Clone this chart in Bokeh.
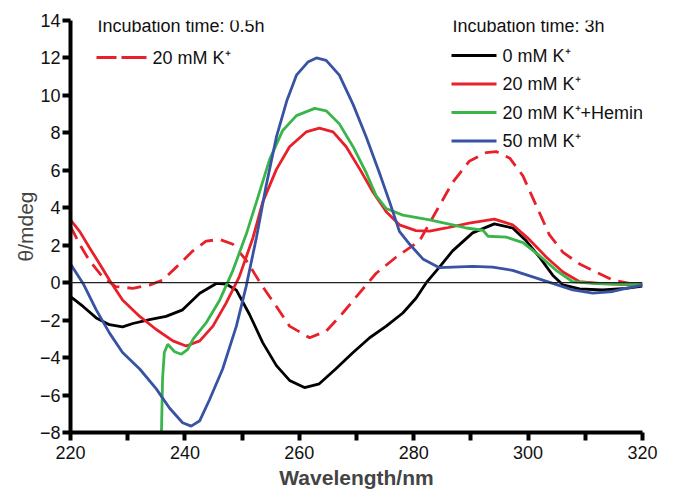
from bokeh.plotting import figure
from bokeh.models import Range1d, FixedTicker, Span, Label, BoxAnnotation
from bokeh.embed import file_html
from bokeh.resources import INLINE

# ---- data ----
x_ticks = [220, 240, 260, 280, 300, 320]
x_minor = [230, 250, 270, 290, 310]
y_ticks = [-8, -6, -4, -2, 0, 2, 4, 6, 8, 10, 12, 14]

# 0.5 h, 20 mM K+ (dashed red)
wl_dash = [220, 221.6, 223.3, 225.6, 227.9, 230.9, 233.8, 236.1, 238.5, 241.4, 243.7, 246.1,
           248.4, 250.7, 253.6, 256.0, 258.3, 261.8, 264.7, 267.6, 270.5, 273.4, 276.9,
           281.0, 283.9, 286.8, 289.7, 292.7, 294.4, 296.8, 299.1, 301.4, 303.7, 306.1,
           309.0, 311.9, 314.8, 317.7, 320]
cd_dash = [3.0, 2.05, 1.18, 0.31, -0.21, -0.3, -0.13, 0.14, 0.83, 1.7, 2.22, 2.31,
           2.05, 1.2, -0.21, -1.27, -2.32, -2.94, -2.59, -1.62, -0.56, 0.49, 1.36,
           2.22, 3.79, 5.35, 6.48, 6.95, 7.0, 6.65, 5.7, 4.13, 2.57, 1.62,
           1.0, 0.57, 0.14, -0.04, -0.1]

# 3 h, 0 mM K+ (black)
wl_k0 = [220, 222.2, 224.5, 226.8, 229.1, 230.9, 233.8, 236.7, 239.6, 242.6, 245.5, 247.2,
         249.0, 251.3, 253.6, 256.0, 258.3, 260.9, 263.5, 266.4, 269.4, 272.3, 275.2, 278.1,
         280.4, 282.2, 284.5, 286.8, 290.3, 294.1, 297.3, 299.7, 302.0, 304.3, 306.1,
         309.0, 313.0, 317.1, 320]
cd_k0 = [-0.74, -1.27, -1.88, -2.24, -2.36, -2.18, -1.97, -1.8, -1.45, -0.56, -0.04, -0.07,
         -0.4, -1.7, -3.2, -4.43, -5.22, -5.6, -5.4, -4.6, -3.73, -2.94, -2.32, -1.62,
         -0.83, 0.0, 0.83, 1.7, 2.66, 3.14, 2.92, 2.22, 1.36, 0.4, -0.12,
         -0.33, -0.39, -0.3, -0.18]

# 3 h, 20 mM K+ (red)
wl_k20 = [220, 221.6, 223.3, 225.1, 226.8, 229.1, 232.1, 235.0, 237.9, 240.2, 242.6, 244.9,
          247.2, 249.5, 251.9, 253.6, 256.0, 258.3, 261.2, 263.5, 265.9, 268.2, 270.6, 272.9,
          275.2, 277.5, 280.4, 282.8, 285.7, 289.7, 294.1, 297.3, 300.2, 303.2, 306.1,
          309.0, 313.0, 317.0, 320]
cd_k20 = [3.35, 2.74, 1.88, 1.0, 0.14, -0.92, -1.8, -2.5, -3.11, -3.38, -3.11, -2.32,
          -1.09, 0.31, 2.4, 4.3, 6.05, 7.26, 8.05, 8.25, 8.05, 7.26, 6.05, 4.83,
          3.79, 3.09, 2.78, 2.75, 2.92, 3.18, 3.39, 3.09, 2.31, 1.36, 0.57,
          0.05, -0.05, -0.1, -0.1]

# 3 h, 20 mM K+ + Hemin (green)
wl_hem = [235.9, 236.1, 236.4, 237.0, 238.2, 239.4, 240.5, 241.4, 243.7, 246.1, 248.4, 250.7,
          252.5, 254.8, 257.1, 259.5, 262.7, 264.7, 267.0, 269.4, 271.7, 273.4, 275.2, 278.1,
          282.8, 286.8, 289.2, 292.1, 293.0, 296.2, 299.1, 302.0, 304.9, 307.8, 311.9, 316.0, 320]
cd_hem = [-8.0, -5.1, -3.73, -3.29, -3.69, -3.82, -3.56, -3.03, -2.15, -0.92, 0.66, 2.57,
          4.3, 6.57, 8.13, 8.92, 9.31, 9.18, 8.48, 7.26, 5.87, 4.66, 3.96, 3.61,
          3.35, 3.09, 2.92, 2.8, 2.48, 2.43, 2.14, 1.44, 0.66, 0.05, -0.05, -0.08, -0.1]

# 3 h, 50 mM K+ (blue)
wl_k50 = [220, 222.2, 224.5, 226.8, 229.1, 232.1, 235.0, 237.3, 239.6, 241.1, 242.6, 244.3,
          246.6, 249.0, 250.7, 252.5, 254.2, 256.0, 257.8, 259.5, 261.5, 263.0, 264.7, 267.0,
          269.4, 271.7, 274.0, 275.8, 277.5, 279.3, 281.6, 284.5, 290.3, 293.8, 297.3,
          300.8, 304.3, 307.8, 311.3, 314.8, 317.1, 320]
cd_k50 = [1.0, -0.04, -1.45, -2.68, -3.73, -4.61, -5.67, -6.69, -7.48, -7.66, -7.37, -6.25,
          -4.61, -2.32, -0.21, 2.4, 5.18, 7.78, 9.7, 11.08, 11.78, 12.0, 11.87, 11.08,
          9.52, 7.78, 5.87, 4.3, 2.74, 2.05, 1.27, 0.8, 0.87, 0.83, 0.66,
          0.31, -0.04, -0.39, -0.56, -0.47, -0.3, -0.13]

legend_title_05 = "Incubation time: 0.5h"
legend_title_3 = "Incubation time: 3h"
legend_05 = ["20 mM K⁺"]
legend_3 = ["0 mM K⁺", "20 mM K⁺", "20 mM K⁺+Hemin", "50 mM K⁺"]

FONT = "Liberation Sans"
RED, GREEN, BLUE, BLACK = "#e8202a", "#3ab54a", "#3853a4", "#000000"
TXT = "#111111"

p = figure(frame_width=572, frame_height=412, output_backend="svg", toolbar_location=None,
           x_range=Range1d(220, 320), y_range=Range1d(-8, 14),
           min_border_left=70, min_border_right=24, min_border_top=20, min_border_bottom=57)
p.xgrid.visible = False
p.ygrid.visible = False
p.outline_line_color = None

p.xaxis.ticker = FixedTicker(ticks=x_ticks, minor_ticks=x_minor)
p.yaxis.ticker = FixedTicker(ticks=y_ticks, minor_ticks=[])
for ax in p.axis:
    ax.axis_line_width = 4
    ax.axis_line_color = "black"
    ax.major_tick_line_width = 4
    ax.minor_tick_line_width = 4
    ax.major_tick_in = 0
    ax.major_tick_out = 8
    ax.minor_tick_in = 0
    ax.minor_tick_out = 8
    ax.major_label_text_font = FONT
    ax.major_label_text_font_size = "18px"
    ax.major_label_text_color = TXT
    ax.major_label_standoff = 2
p.yaxis.minor_tick_out = 0
p.xaxis.major_label_standoff = 5

p.xaxis.axis_label = "Wavelength/nm"
p.xaxis.axis_label_text_font = FONT
p.xaxis.axis_label_text_font_size = "21px"
p.xaxis.axis_label_text_font_style = "bold"
p.xaxis.axis_label_standoff = 4
p.yaxis.axis_label = "θ/mdeg"
p.yaxis.axis_label_text_font = FONT
p.yaxis.axis_label_text_font_size = "21px"
p.yaxis.axis_label_text_font_style = "normal"
p.yaxis.axis_label_standoff = 0

p.add_layout(Span(location=0, dimension="width", line_color="#222222", line_width=1.2))

p.line(wl_dash, cd_dash, line_color=RED, line_width=2.8, line_dash="14 8")
p.line(wl_k0, cd_k0, line_color=BLACK, line_width=2.8)
p.line(wl_k20, cd_k20, line_color=RED, line_width=2.8)
p.line(wl_hem, cd_hem, line_color=GREEN, line_width=2.8)
p.line(wl_k50, cd_k50, line_color=BLUE, line_width=2.8)


# ---- hand-built legends (screen units, relative to the plot frame's bottom-left) ----
def text(x, y, s):
    p.add_layout(Label(x=x, y=y, x_units="screen", y_units="screen", text=s,
                       text_font=FONT, text_font_size="18px", text_color=TXT,
                       text_baseline="middle", text_align="left"))


def swatch(x0, x1, y, color):
    p.add_layout(BoxAnnotation(left=x0, right=x1, bottom=y - 1.4, top=y + 1.4,
                               left_units="screen", right_units="screen",
                               top_units="screen", bottom_units="screen",
                               fill_color=color, fill_alpha=1, line_color=None))


text(27, 407, legend_title_05)
swatch(26, 46, 375, RED)
swatch(51, 76, 375, RED)
text(82, 375, legend_05[0])

text(382, 407, legend_title_3)
rows_y = [377, 348.5, 320, 291.5]
for lab, col, yy in zip(legend_3, [BLACK, RED, GREEN, BLUE], rows_y):
    swatch(381, 426, yy, col)
    text(432, yy, lab)

open("out.html", "w").write(file_html(p, INLINE))
